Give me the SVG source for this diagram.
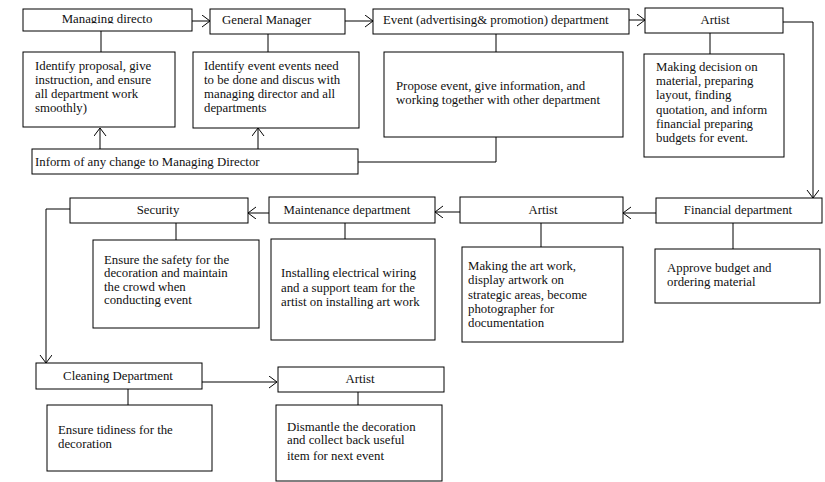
<svg xmlns="http://www.w3.org/2000/svg" width="825" height="482" viewBox="0 0 825 482">
<defs>
<marker id="arr" markerUnits="userSpaceOnUse" markerWidth="12" markerHeight="14" refX="8" refY="6" orient="auto">
<path d="M0,0 L8,6 L0,12" fill="none" stroke="#000" stroke-width="1"/>
</marker>
<clipPath id="mdclip"><rect x="23" y="9" width="169" height="14.5"/></clipPath>
</defs>
<style>
rect{fill:#fff;stroke:#000;stroke-width:1}
text{font-family:"Liberation Serif","Times New Roman",serif;font-size:12.8px;fill:#111}
.c{text-anchor:middle}
#connectors path{fill:none;stroke:#000;stroke-width:1}
.a{marker-end:url(#arr)}
</style>
<rect x="0" y="0" width="825" height="482" style="stroke:none;fill:#fff"/>
<g id="connectors">
<path class="a" d="M192,21 H210"/>
<path class="a" d="M345,21 H373"/>
<path class="a" d="M629,20 H645"/>
<path class="a" d="M783,22 H813 V198"/>
<path class="a" d="M656,213 H623"/>
<path class="a" d="M460,212 H435"/>
<path class="a" d="M269,213 H248"/>
<path class="a" d="M70,209 H46 V363"/>
<path class="a" d="M202,382 H277"/>
<path d="M101,31 V52"/>
<path d="M268,34 V52"/>
<path d="M496,34 V52"/>
<path d="M710,33 V54"/>
<path d="M733,223 V249"/>
<path d="M541,223 V247"/>
<path d="M345,223 V239"/>
<path d="M176,223 V240"/>
<path d="M128,389 V405"/>
<path d="M358,392 V405"/>
<path class="a" d="M100,149 V128"/>
<path class="a" d="M258,149 V128"/>
<path d="M496,137 V162 H358"/>
</g>
<g id="md">
<rect x="23" y="9" width="169" height="22"/>
<text class="c" x="107" y="23" clip-path="url(#mdclip)">Managing directo</text>
</g>
<g id="md-desc">
<rect x="23" y="52" width="152" height="75"/>
<text x="35" y="70">Identify proposal, give</text>
<text x="35" y="84">instruction, and ensure</text>
<text x="35" y="98">all department work</text>
<text x="35" y="112">smoothly)</text>
</g>
<g id="gm">
<rect x="210" y="9" width="135" height="25"/>
<text x="222" y="24">General Manager</text>
</g>
<g id="gm-desc">
<rect x="193" y="52" width="166" height="76"/>
<text x="204" y="70">Identify event events need</text>
<text x="204" y="84">to be done and discus with</text>
<text x="204" y="98">managing director and all</text>
<text x="204" y="112">departments</text>
</g>
<g id="inform">
<rect x="32" y="149" width="326" height="25"/>
<text x="35" y="166">Inform of any change to Managing Director</text>
</g>
<g id="event">
<rect x="373" y="9" width="256" height="25"/>
<text x="383" y="24">Event (advertising&amp; promotion) department</text>
</g>
<g id="event-desc">
<rect x="384" y="52" width="239" height="85"/>
<text x="396" y="90">Propose event, give information, and</text>
<text x="396" y="104">working together with other department</text>
</g>
<g id="artist1">
<rect x="645" y="8" width="138" height="25"/>
<text class="c" x="715" y="24">Artist</text>
</g>
<g id="artist1-desc">
<rect x="644" y="54" width="140" height="103"/>
<text x="656" y="71">Making decision on</text>
<text x="656" y="85">material, preparing</text>
<text x="656" y="99">layout, finding</text>
<text x="656" y="114">quotation, and inform</text>
<text x="656" y="128">financial preparing</text>
<text x="656" y="142">budgets for event.</text>
</g>
<g id="financial">
<rect x="656" y="198" width="166" height="25"/>
<text class="c" x="738" y="214">Financial department</text>
</g>
<g id="financial-desc">
<rect x="655" y="249" width="165" height="54"/>
<text x="667" y="272">Approve budget and</text>
<text x="667" y="286">ordering material</text>
</g>
<g id="artist2">
<rect x="460" y="197" width="163" height="26"/>
<text class="c" x="543" y="214">Artist</text>
</g>
<g id="artist2-desc">
<rect x="462" y="247" width="161" height="95"/>
<text x="468" y="270">Making the art work,</text>
<text x="468" y="284">display artwork on</text>
<text x="468" y="299">strategic areas, become</text>
<text x="468" y="313">photographer for</text>
<text x="468" y="327">documentation</text>
</g>
<g id="maintenance">
<rect x="269" y="197" width="166" height="26"/>
<text class="c" x="347" y="214">Maintenance department</text>
</g>
<g id="maintenance-desc">
<rect x="271" y="239" width="164" height="101"/>
<text x="281" y="277">Installing electrical wiring</text>
<text x="281" y="292">and a support team for the</text>
<text x="281" y="306">artist on installing art work</text>
</g>
<g id="security">
<rect x="70" y="198" width="178" height="25"/>
<text class="c" x="158" y="214">Security</text>
</g>
<g id="security-desc">
<rect x="93" y="240" width="166" height="88"/>
<text x="104" y="264">Ensure the safety for the</text>
<text x="104" y="277">decoration and maintain</text>
<text x="104" y="291">the crowd when</text>
<text x="104" y="304">conducting event</text>
</g>
<g id="cleaning">
<rect x="36" y="363" width="166" height="26"/>
<text class="c" x="118" y="380">Cleaning Department</text>
</g>
<g id="cleaning-desc">
<rect x="47" y="405" width="165" height="66"/>
<text x="58" y="434">Ensure tidiness for the</text>
<text x="58" y="448">decoration</text>
</g>
<g id="artist3">
<rect x="278" y="367" width="166" height="25"/>
<text class="c" x="360" y="383">Artist</text>
</g>
<g id="artist3-desc">
<rect x="276" y="405" width="166" height="76"/>
<text x="287" y="431">Dismantle the decoration</text>
<text x="287" y="444">and collect back useful</text>
<text x="287" y="460">item for next event</text>
</g>
</svg>
